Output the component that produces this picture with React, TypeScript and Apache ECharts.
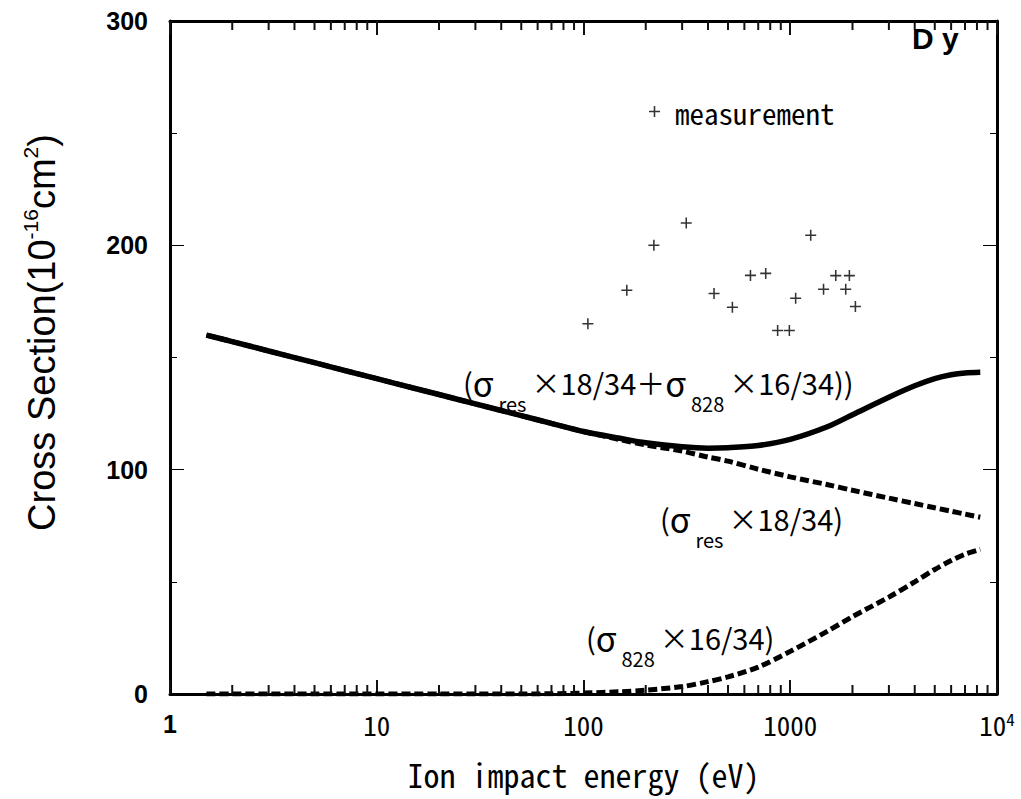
import React, { useEffect, useRef } from 'react';
import * as echarts from 'echarts';

// Curve sample energies (eV) and read-off values (10^-16 cm^2)
const energies = [1.5, 2, 3, 5, 7, 10, 15, 20, 30, 50, 70, 100, 150, 200, 300, 400, 500, 700, 1000, 1500, 2000, 3000, 4000, 5000, 6000, 7000, 8300];
const totalValues = [160, 157.1, 152.9, 147.7, 144.2, 140.6, 136.4, 133.5, 129.3, 124.1, 120.6, 117.0, 114.0, 112.0, 110.2, 109.6, 109.8, 110.8, 113.5, 119, 124.5, 132.3, 137.4, 140.6, 142.3, 143.1, 143.4];
const resValues = [160, 157.1, 152.9, 147.7, 144.2, 140.6, 136.4, 133.5, 129.3, 124.1, 120.6, 117.0, 113.4, 111.0, 108.3, 105.6, 103.8, 100.2, 96.8, 93.4, 90.8, 87.3, 84.9, 83.0, 81.5, 80.2, 78.8];
const s828Values = [0, 0, 0, 0, 0, 0, 0, 0, 0, 0, 0.1, 0.4, 1.0, 1.7, 3.3, 5.5, 7.6, 12, 19, 27.8, 34.5, 43.2, 50, 55.5, 59.5, 62.3, 64.5];

// Measurements
const measurementEnergies = [105, 162, 219, 314, 428, 525, 642, 761, 869, 990, 1062, 1256, 1449, 1660, 1855, 1932, 2066];
const measurementValues = [165, 180, 200, 210, 178.5, 172.4, 186.6, 187.5, 162, 162, 176.4, 204.5, 180.4, 186.5, 180.4, 186.5, 172.7];

// Axis ticks
const xDecades = [1, 10, 100, 1000];
const xMinorMultipliers = [2, 3, 4, 5, 6, 7, 8, 9];
const xTickLabels = ['1', '10', '100', '1000', '10{sup|4}'];
const yTickLabels = ['0', '100', '200', '300'];

const PLUS = 'path://M4.3,0h1.4v4.3h4.3v1.4h-4.3v4.3h-1.4v-4.3h-4.3v-1.4h4.3z';
const ANN_FONT = '"Noto Sans CJK JP", "Noto Sans", sans-serif';
const MONO_FONT = '"Noto Sans Mono CJK JP", "DejaVu Sans Mono", monospace';
const ARIAL = '"Liberation Sans", Arial, sans-serif';

const pair = (xs: number[], ys: number[]) => xs.map((x, i) => [x, ys[i]]);

function annotation(text: string, x: number, y: number) {
  return {
    type: 'text',
    x,
    y,
    silent: true,
    style: {
      text,
      fontFamily: ANN_FONT,
      fontSize: 29,
      lineHeight: 62,
      fill: '#000',
      align: 'left',
      verticalAlign: 'middle',
      rich: {
        s: { fontFamily: ANN_FONT, fontSize: 34, lineHeight: 62, fill: '#000' },
        sub: { fontFamily: ANN_FONT, fontSize: 20, lineHeight: 20, verticalAlign: 'bottom', fill: '#000', padding: [0, 5, 0, 5] },
      },
    },
  };
}

export default function App() {
  const ref = useRef<HTMLDivElement>(null);
  useEffect(() => {
    if (!ref.current) return;
    const chart = echarts.init(ref.current, undefined, { renderer: 'svg' });
    const xLabelFormatter = (v: number) => {
      const idx = Math.round(Math.log10(v));
      if (idx === 0) return '{b|1}';
      return xTickLabels[idx] ?? String(v);
    };
    const yLabelFormatter = (v: number) => {
      const idx = Math.round(v / 100);
      return yTickLabels[idx] ?? String(v);
    };
    const xb = {
      type: 'log',
      logBase: 10,
      min: 1,
      max: 10000,
      axisLine: { show: true, onZero: false, lineStyle: { color: '#000', width: 3 } },
      axisTick: { show: true, inside: true, length: 14, lineStyle: { color: '#111', width: 2 } },
      splitLine: { show: false },
    };
    const yb = {
      type: 'value',
      min: 0,
      max: 300,
      interval: 100,
      axisLine: { show: true, onZero: false, lineStyle: { color: '#000', width: 3 } },
      axisTick: { show: true, inside: true, length: 14, lineStyle: { color: '#000', width: 1 } },
      minorTick: { show: true, splitNumber: 2, length: 7, lineStyle: { color: '#000', width: 1 } },
      splitLine: { show: false },
    };
    chart.setOption({
      animation: false,
      backgroundColor: '#fff',
      grid: { left: 170, right: 24, top: 21, bottom: 105 },
      legend: {
        data: ['measurement'],
        left: 649,
        top: 97,
        padding: 0,
        itemWidth: 11,
        itemHeight: 11,
        textStyle: { fontFamily: MONO_FONT, fontSize: 29, color: '#000', padding: [0, 0, 0, 10] },
        selectedMode: false,
      },
      xAxis: [
        {
          ...xb,
          position: 'bottom',
          axisLabel: {
            margin: 16,
            formatter: xLabelFormatter,
            fontFamily: MONO_FONT,
            fontSize: 27,
            lineHeight: 28,
            color: '#000',
            rich: {
              b: { fontFamily: ARIAL, fontWeight: 'bold', fontSize: 25, lineHeight: 28, color: '#000' },
              sup: { fontFamily: MONO_FONT, fontSize: 17, lineHeight: 15, verticalAlign: 'top', color: '#000' },
            },
          },
          name: 'Ion impact energy (eV)',
          nameLocation: 'middle',
          nameGap: 63,
          nameTextStyle: { fontFamily: MONO_FONT, fontSize: 32, lineHeight: 34, color: '#000' },
        },
        { ...xb, position: 'top', axisLabel: { show: false } },
      ],
      yAxis: [
        {
          ...yb,
          position: 'left',
          axisLabel: {
            margin: 22,
            formatter: yLabelFormatter,
            fontFamily: ARIAL,
            fontWeight: 'bold',
            fontSize: 25,
            color: '#000',
          },
          name: 'Cross Section(10{sup|-16}cm{sup|2})',
          nameLocation: 'middle',
          nameRotate: 90,
          nameGap: 106,
          nameTextStyle: {
            fontFamily: ARIAL,
            fontSize: 38,
            lineHeight: 44,
            color: '#000',
            padding: [0, 0, 0, 50],
            rich: {
              sup: { fontFamily: ARIAL, fontSize: 21, lineHeight: 20, verticalAlign: 'top', color: '#000' },
            },
          },
        },
        { ...yb, position: 'right', axisLabel: { show: false } },
      ],
      series: [
        {
          name: 'σres×18/34',
          type: 'line',
          data: pair(energies, resValues),
          showSymbol: false,
          smooth: 0.3,
          lineStyle: { color: '#000', width: 5, type: [9, 4] },
        },
        {
          name: 'σ828×16/34',
          type: 'line',
          data: pair(energies, s828Values),
          showSymbol: false,
          smooth: 0.3,
          lineStyle: { color: '#000', width: 5, type: [9, 4] },
        },
        {
          name: 'σres×18/34+σ828×16/34',
          type: 'line',
          data: pair(energies, totalValues),
          showSymbol: false,
          smooth: 0.3,
          lineStyle: { color: '#000', width: 5.5 },
        },
        {
          name: 'measurement',
          type: 'scatter',
          data: pair(measurementEnergies, measurementValues),
          symbol: PLUS,
          symbolSize: 11,
          itemStyle: { color: '#000' },
        },
      ],
    });

    // minor log ticks on the x axes, placed through the axis scale
    const ticks: any[] = [];
    const yBottom = chart.convertToPixel({ yAxisIndex: 0 }, 0) as number;
    const yTop = chart.convertToPixel({ yAxisIndex: 0 }, 300) as number;
    xDecades.forEach((d) => {
      xMinorMultipliers.forEach((m) => {
        const px = chart.convertToPixel({ xAxisIndex: 0 }, d * m) as number;
        ticks.push({ type: 'rect', shape: { x: px - 1, y: yBottom - 9, width: 2, height: 9 }, style: { fill: '#111' }, z: 100 });
        ticks.push({ type: 'rect', shape: { x: px - 1, y: yTop, width: 2, height: 9 }, style: { fill: '#111' }, z: 100 });
      });
    });

    chart.setOption({
      graphic: [
        ...ticks,
        annotation('({s|σ}{sub|res}×18/34＋{s|σ}{sub|828}×16/34))', 463, 382),
        annotation('({s|σ}{sub|res}×18/34)', 660, 518),
        annotation('({s|σ}{sub|828}×16/34)', 586, 637),
        {
          type: 'text',
          x: 912,
          y: 38,
          silent: true,
          style: {
            text: 'D y',
            fontFamily: ARIAL,
            fontWeight: 'bold',
            fontSize: 30,
            fill: '#000',
            align: 'left',
            verticalAlign: 'middle',
          },
        },
      ],
    });

    return () => chart.dispose();
  }, []);
  return <div ref={ref} style={{ position: 'absolute', left: 0, top: 0, width: 1021, height: 799 }} />;
}
